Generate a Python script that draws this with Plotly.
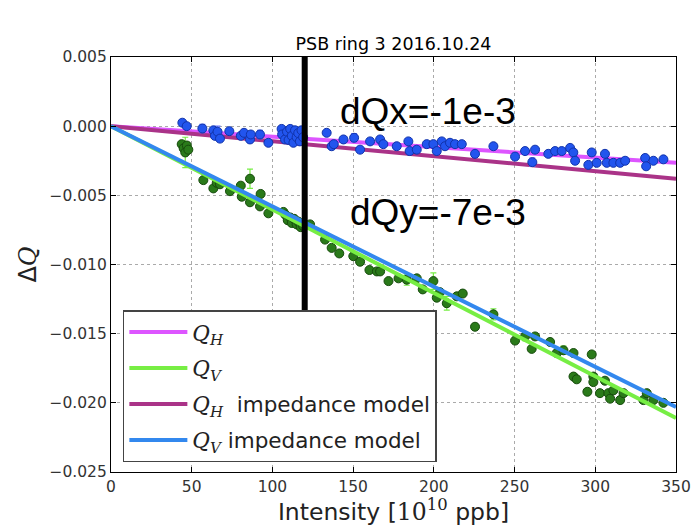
import plotly.graph_objects as go

# measured tune shifts, horizontal plane
h_int = [44.2, 46.9, 56.6, 63.4, 64.4, 66.0, 67.5, 73.3, 80.4, 82.4, 86.1, 86.6, 92.3, 97.5,
         105.7, 106.0, 107.8, 109.0, 110.0, 111.0, 112.0, 113.0, 114.0, 115.0, 116.0, 117.0, 118.0, 119.0,
         133.6, 136.7, 138.0, 144.0, 150.6, 154.3, 160.5, 166.7, 168.7, 177.0, 184.2, 185.0, 189.4,
         195.6, 199.7, 201.8, 204.9, 206.9, 210.0, 213.1, 217.3, 225.5, 236.9, 250.3, 256.5, 261.0,
         262.7, 270.9, 275.1, 279.2, 284.4, 286.4, 287.5, 297.8, 295.7, 300.9, 306.0, 307.1, 311.2,
         315.4, 318.5, 330.9, 331.5, 336.0, 342.2]
h_dq = [0.00025, 0.0, -0.00017, -0.0003, -0.0007, -0.0004, -0.0009, -0.00036, -0.0007, -0.00048,
        -0.00096, -0.0006, -0.0006, -0.0012,
        -0.0002, -0.0006, -0.00096, -0.0004, -0.0010, -0.0002, -0.0007, -0.0012, -0.0003, -0.0008,
        -0.0005, -0.0011, -0.0003, -0.0008,
        -0.00048, -0.00145, -0.0013, -0.00096, -0.00084, -0.0017, -0.0011, -0.00096, -0.0013,
        -0.00145, -0.0011, -0.0018, -0.0017, -0.0013, -0.0013, -0.0018, -0.0011, -0.00145, -0.0012,
        -0.0013, -0.0013, -0.0020, -0.00145, -0.0022, -0.0018, -0.0026, -0.0017, -0.0020, -0.0018,
        -0.0018, -0.00157, -0.0019, -0.0025, -0.0019, -0.0028, -0.00265, -0.0020, -0.00265,
        -0.00265, -0.00265, -0.0025, -0.0023, -0.0029, -0.0025, -0.0024]
h_err = [0.0001, 0.0001, 0.0003, 0.0001, 0.0001, 0.0004, 0.0001, 0.0001, 0.0001, 0.0001,
         0.0001, 0.0001, 0.0003, 0.0001,
         0.0001, 0.0001, 0.0001, 0.0001, 0.0001, 0.0001, 0.0001, 0.0001, 0.0001, 0.0001,
         0.0001, 0.0001, 0.0001, 0.0001,
         0.0001, 0.0001, 0.0001, 0.0001, 0.0003, 0.0001, 0.0001, 0.0001, 0.0001, 0.0001,
         0.0001, 0.0001, 0.0001, 0.0001, 0.0002, 0.0001, 0.0001, 0.0001, 0.0001, 0.0001,
         0.0001, 0.0001, 0.0001, 0.0001, 0.0001, 0.0003, 0.0001, 0.0002, 0.0001, 0.0001,
         0.0001, 0.0001, 0.0001, 0.0001, 0.0001, 0.0001, 0.0001, 0.0001, 0.0001, 0.0001,
         0.0001, 0.0001, 0.0001, 0.0001, 0.0001]

# measured tune shifts, vertical plane
v_int = [43.8, 45.0, 46.0, 47.0, 47.9, 57.2, 63.4, 65.5, 67.5, 73.7, 80.4, 81.0, 86.1, 86.1, 92.7,
         92.3, 97.5, 106.8, 108.0, 109.5, 111.0, 112.0, 113.5, 115.0, 116.0, 117.5, 119.0, 123.3,
         132.6, 136.7, 141.4, 150.1, 154.3, 160.1, 164.7, 166.7, 171.9, 178.1, 183.2, 189.4, 193.1,
         199.7, 201.8, 203.8, 208.0, 214.2, 217.9, 225.5, 236.9, 250.3, 256.5, 260.6, 262.7, 272.0,
         276.1, 280.3, 286.5, 286.5, 288.5, 297.8, 298.8, 298.8, 295.1, 302.9, 306.0, 308.1, 309.2,
         311.2, 315.4, 317.5, 329.8, 331.9, 336.0, 342.2]
v_dq = [-0.0013, -0.0016, -0.0019, -0.0014, -0.0017, -0.0039, -0.0045, -0.0041, -0.0042, -0.0047,
        -0.0043, -0.0051, -0.0038, -0.0055, -0.0049, -0.0058, -0.0063, -0.0062, -0.0064, -0.0068,
        -0.0066, -0.0070, -0.0067, -0.0071, -0.0069, -0.0073, -0.0072, -0.0071, -0.0082, -0.0088,
        -0.0092, -0.0094, -0.0098, -0.0104, -0.0105, -0.0105, -0.0112, -0.0110, -0.0111, -0.0110,
        -0.0118, -0.0112, -0.0124, -0.0120, -0.0128, -0.0123, -0.0121, -0.0145, -0.0136, -0.0155,
        -0.0152, -0.0161, -0.0152, -0.0156, -0.0164, -0.0162, -0.0164, -0.0181, -0.0183, -0.0165,
        -0.0181, -0.0185, -0.0192, -0.0193, -0.0184, -0.0193, -0.0197, -0.0191, -0.0198, -0.0193,
        -0.0198, -0.0193, -0.0198, -0.0200]
v_err = [0.0002, 0.0002, 0.0011, 0.0002, 0.0002, 0.0002, 0.0002, 0.0002, 0.0002, 0.0002,
         0.0002, 0.0002, 0.0007, 0.0002, 0.0002, 0.0002, 0.0002, 0.0002, 0.0002, 0.0002,
         0.0002, 0.0002, 0.0002, 0.0002, 0.0002, 0.0002, 0.0002, 0.0002, 0.0002, 0.0002,
         0.0002, 0.0002, 0.0002, 0.0002, 0.0002, 0.0002, 0.0002, 0.0002, 0.0004, 0.0002,
         0.0002, 0.0006, 0.0002, 0.0002, 0.0005, 0.0002, 0.0002, 0.0002, 0.0004, 0.0002,
         0.0003, 0.0002, 0.0002, 0.0002, 0.0002, 0.0003, 0.0002, 0.0002, 0.0002, 0.0002,
         0.0002, 0.0002, 0.0002, 0.0002, 0.0002, 0.0002, 0.0002, 0.0002, 0.0002, 0.0002,
         0.0002, 0.0002, 0.0002, 0.0002]

# linear fits and impedance model (end points)
fit_int = [0, 350]
qh_fit = [0, -0.00265]
qv_fit = [0, -0.0211]
qh_model = [0, -0.0038]
qv_model = [0, -0.0203]

# vertical marker
marker_int = [120, 120]
marker_dq = [0.005, -0.0134]

def q(sub=""):
    s = "<i>Q</i>" if not sub else "<i>Q<sub>%s</sub></i>" % sub
    return '<span style="font-family:DejaVu Serif">' + s + "</span>"

fig = go.Figure()

fig.add_trace(go.Scatter(x=fit_int, y=qh_fit, mode="lines", name=q("H"),
                         legendgroup="a", legendrank=1, line=dict(color="#dd55ff", width=4)))
fig.add_trace(go.Scatter(x=fit_int, y=qh_model, mode="lines", name=q("H") + "  impedance model",
                         legendgroup="c", legendrank=3, line=dict(color="#aa3388", width=4)))
fig.add_trace(go.Scatter(x=h_int, y=h_dq, mode="markers", showlegend=False,
                         error_y=dict(type="data", array=h_err, color="#6677ff", thickness=1.2, width=3),
                         marker=dict(color="#2255ee", size=9, line=dict(color="#1133aa", width=1))))
fig.add_trace(go.Scatter(x=v_int, y=v_dq, mode="markers", showlegend=False,
                         error_y=dict(type="data", array=v_err, color="#77ee44", thickness=1.2, width=3),
                         marker=dict(color="#2a7a1a", size=9, line=dict(color="#164a0c", width=1))))
fig.add_trace(go.Scatter(x=fit_int, y=qv_fit, mode="lines", name=q("V"),
                         legendgroup="b", legendrank=2, line=dict(color="#77ee44", width=4)))
fig.add_trace(go.Scatter(x=fit_int, y=qv_model, mode="lines", name=q("V") + " impedance model",
                         legendgroup="d", legendrank=4, line=dict(color="#3388ee", width=4)))
fig.add_trace(go.Scatter(x=marker_int, y=marker_dq, mode="lines", showlegend=False,
                         line=dict(color="black", width=6)))

fig.add_annotation(x=0.402, y=0.00106, xref="paper", yref="y", xanchor="left", text="dQx=-1e-3",
                   showarrow=False, font=dict(family="Liberation Sans", size=37, color="black"))
fig.add_annotation(x=0.419, y=-0.00625, xref="paper", yref="y", xanchor="left", text="dQy=-7e-3",
                   showarrow=False, font=dict(family="Liberation Sans", size=37, color="black"))

axis_style = dict(showline=True, linecolor="black", linewidth=1.2, mirror="allticks",
                  ticks="inside", ticklen=5, tickcolor="black", automargin=False,
                  showgrid=True, gridcolor="#aaaaaa", griddash="dot", gridwidth=1,
                  zeroline=False, tickfont=dict(family="DejaVu Sans", size=15.5, color="#333"))

fig.update_xaxes(range=[0, 350], dtick=50, tick0=0,
                 title=dict(text='Intensity [<span style="font-family:DejaVu Serif">10<sup>10</sup></span> ppb]',
                            font=dict(family="DejaVu Sans", size=23.5, color="#222"), standoff=0),
                 **axis_style)
fig.update_yaxes(range=[-0.025, 0.005], dtick=0.005, tick0=0, tickformat=".3f",
                 title=dict(text="Δ" + q(), font=dict(family="DejaVu Sans", size=24, color="#222"), standoff=6),
                 **axis_style)

fig.update_layout(
    width=700, height=526,
    paper_bgcolor="white", plot_bgcolor="white",
    margin=dict(l=111, r=24, t=57, b=54),
    title=dict(text="PSB ring 3 2016.10.24", x=0.5, xref="paper", y=1 - 44 / 526, yref="container",
               yanchor="middle", font=dict(family="DejaVu Sans", size=17.5, color="black")),
    legend=dict(x=0.021, y=0.39, xanchor="left", yanchor="top", bgcolor="white",
                bordercolor="#444", borderwidth=1.5, traceorder="grouped", tracegroupgap=5,
                font=dict(family="DejaVu Sans", size=21.5, color="#222"), itemwidth=58),
    showlegend=True,
)

# page body has an 8px default margin; drop it so the figure fills the window
fig.write_html("out.html", config={"displayModeBar": False},
               post_script="document.body.style.margin='0';")
